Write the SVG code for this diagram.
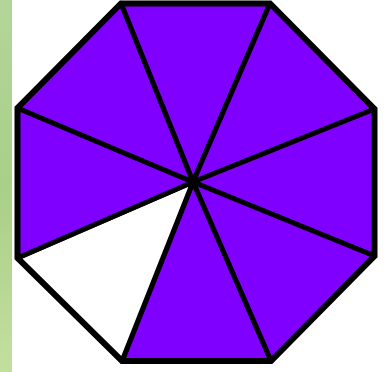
<svg xmlns="http://www.w3.org/2000/svg" width="391" height="372" viewBox="0 0 391 372">
<defs>
<linearGradient id="g" x1="0" y1="0" x2="0" y2="1">
<stop offset="0" stop-color="#b3d59a"/>
<stop offset="0.5" stop-color="#a9cf88"/>
<stop offset="1" stop-color="#c3df9e"/>
</linearGradient>
</defs>
<style>
.sl{fill:#7f00ff;stroke:#000;stroke-width:5;stroke-linejoin:round}
.wt{fill:#fff;stroke:#000;stroke-width:5;stroke-linejoin:round}
.ol{fill:none;stroke:#000;stroke-width:6;stroke-linejoin:miter}
</style>
<rect width="391" height="372" fill="#fff"/>
<rect x="0" y="0" width="12" height="372" fill="url(#g)"/>
<g id="slices">
<polygon class="sl" points="193,182 121,3.5 270,3.5"/>
<polygon class="sl" points="193,182 270,3.5 374.5,109"/>
<polygon class="sl" points="193,182 374.5,109 374.5,256"/>
<polygon class="sl" points="193,182 374.5,256 271,361"/>
<polygon class="sl" points="193,182 271,361 122,361"/>
<polygon class="wt" points="193,182 122,361 17.5,258"/>
<polygon class="sl" points="193,182 17.5,258 17.5,108"/>
<polygon class="sl" points="193,182 17.5,108 121,3.5"/>
</g>
<g id="outline">
<polygon class="ol" points="121,3.5 270,3.5 374.5,109 374.5,256 271,361 122,361 17.5,258 17.5,108"/>
</g>
</svg>
